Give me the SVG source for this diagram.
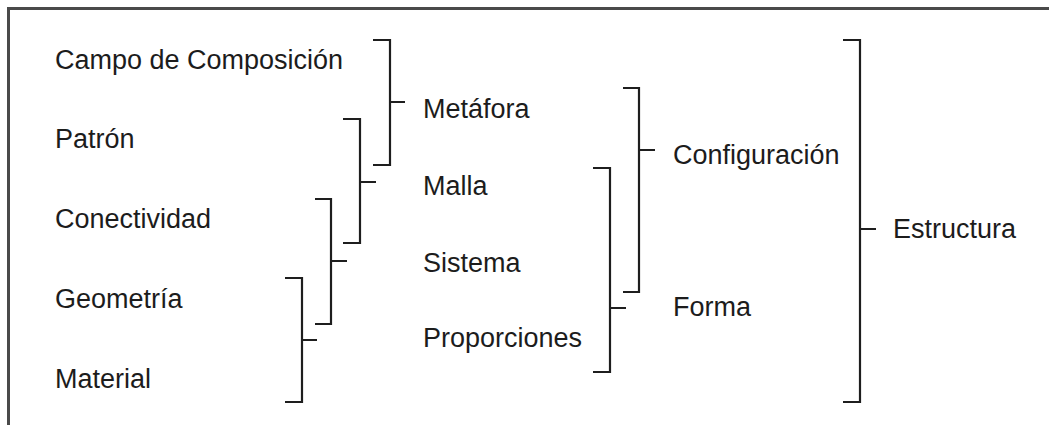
<svg xmlns="http://www.w3.org/2000/svg" width="1049" height="425" viewBox="0 0 1049 425">
  <style>
    .frame { fill: none; stroke: #4a4a4a; stroke-width: 3; }
    .br { fill: none; stroke: #1e1e1e; stroke-width: 2.2; stroke-linejoin: miter; stroke-linecap: butt; }
    .lbl { font-family: "Liberation Sans", Arial, sans-serif; font-size: 27px; fill: #1c1c1c; }
  </style>
  <rect width="1049" height="425" fill="#ffffff"/>
  <!-- outer frame: only the top and left edges fall inside the view -->
  <path class="frame" d="M8.5 440 V8.5 H1060"/>

  <g id="n-campo"><text class="lbl" x="55" y="69">Campo de Composición</text></g>
  <g id="n-patron"><text class="lbl" x="55" y="148">Patrón</text></g>
  <g id="n-conectividad"><text class="lbl" x="55" y="228">Conectividad</text></g>
  <g id="n-geometria"><text class="lbl" x="55" y="308">Geometría</text></g>
  <g id="n-material"><text class="lbl" x="55" y="388">Material</text></g>

  <g id="n-metafora"><text class="lbl" x="423" y="118">Metáfora</text></g>
  <g id="n-malla"><text class="lbl" x="423" y="195">Malla</text></g>
  <g id="n-sistema"><text class="lbl" x="423" y="272">Sistema</text></g>
  <g id="n-proporciones"><text class="lbl" x="423" y="347">Proporciones</text></g>

  <g id="n-configuracion"><text class="lbl" x="673" y="164">Configuración</text></g>
  <g id="n-forma"><text class="lbl" x="673" y="316">Forma</text></g>

  <g id="n-estructura"><text class="lbl" x="893" y="238">Estructura</text></g>

  <!-- grouping brackets -->
  <g id="connectors">
    <path class="br" d="M373 40 H390 V165 H373 M390 102 H405"/>
    <path class="br" d="M343 119 H360 V243 H343 M360 182 H376"/>
    <path class="br" d="M315 199 H331 V324 H315 M331 261 H347"/>
    <path class="br" d="M285 278 H302 V402 H285 M302 340 H317"/>
    <path class="br" d="M623 88 H639 V292 H623 M639 150 H655"/>
    <path class="br" d="M593 168 H610 V372 H593 M610 308 H626"/>
    <path class="br" d="M843 40 H860 V402 H843 M860 229 H876"/>
  </g>
</svg>
